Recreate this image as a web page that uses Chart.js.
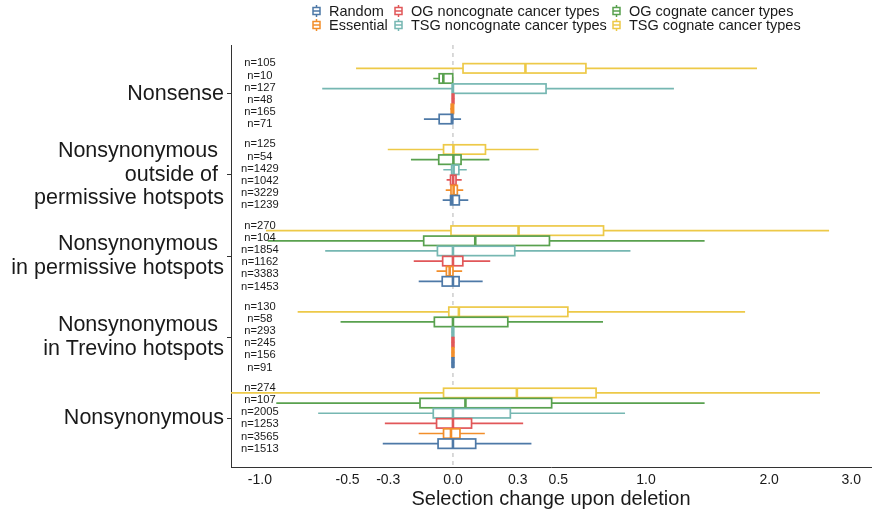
<!DOCTYPE html>
<html lang="en">
<head>
<meta charset="utf-8">
<script src="https://cdn.jsdelivr.net/npm/chart.js@4.4.1/dist/chart.umd.min.js"></script>
<style>
  html, body { margin: 0; padding: 0; background: #fff; }
</style>
</head>
<body>
<canvas id="chart" width="873" height="515"></canvas>
<script>
// category labels (top to bottom)
const groups = [
  'Nonsense',
  ['Nonsynonymous ', 'outside of ', 'permissive hotspots'],
  ['Nonsynonymous ', 'in permissive hotspots'],
  ['Nonsynonymous ', 'in Trevino hotspots'],
  'Nonsynonymous'
];

// x ticks
const xTickValues = [-1, -0.5, -0.3, 0, 0.3, 0.5, 1, 2, 3];
const xTickLabels = ['-1.0', '-0.5', '-0.3', '0.0', '0.3', '0.5', '1.0', '2.0', '3.0'];

// series, in the order they are stacked inside a group (top first)
const seriesNames = ['TSG cognate cancer types', 'OG cognate cancer types', 'TSG noncognate cancer types',
                     'OG noncognate cancer types', 'Essential', 'Random'];
const seriesColors = ['#EDC948', '#59A14F', '#76B7B2', '#E15759', '#F28E2B', '#4E79A7'];

// [lower whisker, q1, median, q3, upper whisker] for each group
const tsgCognate = [
  [-0.457, 0.046, 0.337, 0.645, 1.879],
  [-0.302, -0.043, 0.002, 0.149, 0.401],
  [-0.961, -0.009, 0.304, 0.743, 2.695],
  [-0.770, -0.019, 0.027, 0.549, 1.766],
  [-1.25, -0.043, 0.296, 0.701, 2.578]
];
const ogCognate = [
  [-0.090, -0.063, -0.044, -0.001, 0.0],
  [-0.193, -0.065, 0.002, 0.037, 0.167],
  [-0.95, -0.134, 0.102, 0.455, 1.419],
  [-0.536, -0.085, 0.0, 0.253, 0.740],
  [-0.897, -0.151, 0.057, 0.466, 1.419]
];
const tsgNoncognate = [
  [-0.633, -0.003, 0.0, 0.438, 1.189],
  [-0.044, -0.006, 0.003, 0.027, 0.063],
  [-0.617, -0.071, 0.0, 0.286, 0.902],
  [-0.006, -0.004, 0.0, 0.003, 0.005],
  [-0.655, -0.090, 0.0, 0.265, 0.869]
];
const ogNoncognate = [
  [-0.005, -0.003, 0.0, 0.004, 0.006],
  [-0.029, -0.011, 0.001, 0.014, 0.040],
  [-0.180, -0.047, 0.0, 0.045, 0.171],
  [-0.006, -0.004, 0.0, 0.004, 0.006],
  [-0.316, -0.075, 0.0, 0.085, 0.326]
];
const essential = [
  [-0.012, -0.008, 0.0, 0.002, 0.004],
  [-0.033, -0.009, 0.003, 0.020, 0.047],
  [-0.075, -0.030, -0.015, 0.0, 0.042],
  [-0.006, -0.004, 0.0, 0.004, 0.006],
  [-0.157, -0.043, -0.009, 0.032, 0.146]
];
const random = [
  [-0.133, -0.063, -0.005, -0.001, 0.037],
  [-0.047, -0.011, -0.003, 0.029, 0.070],
  [-0.157, -0.049, 0.0, 0.028, 0.136],
  [-0.006, -0.004, 0.0, 0.004, 0.006],
  [-0.326, -0.068, 0.0, 0.104, 0.366]
];

// sample sizes per group
const nTsgCognate = [105, 125, 270, 130, 274];
const nOgCognate = [10, 54, 104, 58, 107];
const nTsgNoncognate = [127, 1429, 1854, 293, 2005];
const nOgNoncognate = [48, 1042, 1162, 245, 1253];
const nEssential = [165, 3229, 3383, 156, 3565];
const nRandom = [71, 1239, 1453, 91, 1513];

const allStats = [tsgCognate, ogCognate, tsgNoncognate, ogNoncognate, essential, random];
const allN = [nTsgCognate, nOgCognate, nTsgNoncognate, nOgNoncognate, nEssential, nRandom];

// legend grid: columns left to right, rows top to bottom
const legendColumns = [['Random', 'Essential'],
                       ['OG noncognate cancer types', 'TSG noncognate cancer types'],
                       ['OG cognate cancer types', 'TSG cognate cancer types']];

const DODGE = 0.125;   // box spacing inside a group (category units)
const LABEL_STEP = 0.15;
const BOX_HALF = 0.058;

Chart.defaults.font.family = "'Liberation Sans', Arial, sans-serif";

// pseudo-log axis: position ~ asinh(value)
class AsinhScale extends Chart.LinearScale {
  static id = 'asinh';
  static defaults = {};
  getPixelForValue(v) {
    const lo = Math.asinh(this.min), hi = Math.asinh(this.max);
    return this.getPixelForDecimal((Math.asinh(v) - lo) / (hi - lo));
  }
  getValueForPixel(p) {
    const lo = Math.asinh(this.min), hi = Math.asinh(this.max);
    return Math.sinh(lo + this.getDecimalForPixel(p) * (hi - lo));
  }
}
Chart.register(AsinhScale);

const datasets = seriesNames.map((name, s) => ({
  label: name,
  color: seriesColors[s],
  stats: allStats[s],
  counts: allN[s],
  data: allStats[s].map((st, g) => ({ x: st[2], y: g + 1 + (s - 2.5) * DODGE })),
  pointRadius: 0
}));

const boxPlugin = {
  id: 'boxes',
  beforeDatasetsDraw(chart) {
    const { ctx, chartArea: a, scales: { x } } = chart;
    const x0 = x.getPixelForValue(0);
    ctx.save();
    ctx.strokeStyle = '#b5b5b5';
    ctx.lineWidth = 1;
    ctx.setLineDash([4, 4]);
    ctx.beginPath();
    ctx.moveTo(x0, a.top);
    ctx.lineTo(x0, a.bottom);
    ctx.stroke();
    ctx.restore();
  },
  afterDatasetsDraw(chart) {
    const { ctx, chartArea: a, scales: { x, y } } = chart;
    const h = Math.abs(y.getPixelForValue(1 + BOX_HALF) - y.getPixelForValue(1));
    ctx.save();
    ctx.beginPath();
    ctx.rect(a.left, a.top, a.right - a.left, a.bottom - a.top);
    ctx.clip();
    chart.data.datasets.forEach(ds => {
      ds.stats.forEach((st, g) => {
        const py = y.getPixelForValue(ds.data[g].y);
        const [lo, q1, med, q3, hi] = st.map(v => x.getPixelForValue(v));
        ctx.strokeStyle = ds.color;
        ctx.lineWidth = 1.7;
        ctx.beginPath();
        ctx.moveTo(lo, py); ctx.lineTo(q1, py);
        ctx.moveTo(q3, py); ctx.lineTo(hi, py);
        ctx.stroke();
        ctx.fillStyle = '#fff';
        ctx.fillRect(q1, py - h, Math.max(q3 - q1, 1), 2 * h);
        ctx.strokeRect(q1, py - h, Math.max(q3 - q1, 1), 2 * h);
        ctx.lineWidth = 2.6;
        ctx.beginPath();
        ctx.moveTo(med, py - h); ctx.lineTo(med, py + h);
        ctx.stroke();
      });
    });
    ctx.restore();

    // n= labels at x = -1
    ctx.save();
    ctx.fillStyle = '#1a1a1a';
    ctx.font = "11.2px 'Liberation Sans', Arial, sans-serif";
    ctx.textAlign = 'center';
    ctx.textBaseline = 'middle';
    const lx = x.getPixelForValue(-1);
    chart.data.datasets.forEach((ds, s) => {
      ds.counts.forEach((n, g) => {
        ctx.fillText('n=' + n, lx, y.getPixelForValue(g + 1 + (s - 2.5) * LABEL_STEP));
      });
    });
    ctx.restore();
  },
  afterDraw(chart) {
    // legend: 3 columns x 2 rows of boxplot keys
    const { ctx } = chart;
    const colX = [313, 395, 613];
    const rowY = [11, 25];
    ctx.save();
    ctx.font = "14.5px 'Liberation Sans', Arial, sans-serif";
    ctx.textBaseline = 'middle';
    ctx.textAlign = 'left';
    legendColumns.forEach((col, c) => {
      col.forEach((name, r) => {
        const color = seriesColors[seriesNames.indexOf(name)];
        const kx = colX[c], ky = rowY[r];
        ctx.strokeStyle = color;
        ctx.lineWidth = 1.5;
        ctx.beginPath();
        ctx.moveTo(kx + 3.5, ky - 6); ctx.lineTo(kx + 3.5, ky - 3.5);
        ctx.moveTo(kx + 3.5, ky + 3.5); ctx.lineTo(kx + 3.5, ky + 6);
        ctx.stroke();
        ctx.strokeRect(kx, ky - 3.5, 7, 7);
        ctx.beginPath();
        ctx.moveTo(kx, ky); ctx.lineTo(kx + 7, ky);
        ctx.stroke();
        ctx.fillStyle = '#1a1a1a';
        ctx.fillText(name, kx + 16, ky + 1);
      });
    });
    ctx.restore();
  }
};

new Chart(document.getElementById('chart'), {
  type: 'scatter',
  data: { datasets: datasets },
  plugins: [boxPlugin],
  options: {
    responsive: false,
    animation: false,
    layout: { padding: { top: 45, right: 2, left: 0, bottom: 0 } },
    plugins: { legend: { display: false }, tooltip: { enabled: false } },
    scales: {
      x: {
        type: 'asinh',
        min: -1.196,
        max: 3.298,
        bounds: 'data',
        afterBuildTicks: ax => { ax.ticks = xTickValues.map(v => ({ value: v })); },
        afterFit: ax => { ax.height = 48; },
        ticks: {
          callback: (v, i) => xTickLabels[i],
          color: '#1a1a1a',
          font: { size: 14 },
          padding: 5,
          maxRotation: 0,
          autoSkip: false
        },
        grid: { display: true, drawOnChartArea: false, drawTicks: false },
        border: { display: true, color: '#333', width: 1 },
        title: {
          display: true,
          text: 'Selection change upon deletion',
          color: '#1a1a1a',
          font: { size: 20 },
          padding: { top: 0, bottom: 4 }
        }
      },
      y: {
        type: 'linear',
        reverse: true,
        min: 0.4,
        max: 5.6,
        afterBuildTicks: ax => { ax.ticks = groups.map((g, i) => ({ value: i + 1 })); },
        afterFit: ax => { ax.width = 231; },
        ticks: {
          callback: (v, i) => groups[i],
          color: '#1a1a1a',
          font: { size: 21.5, lineHeight: 1.1 },
          padding: 3,
          autoSkip: false
        },
        grid: { drawOnChartArea: false, drawTicks: true, tickLength: 4, color: '#333' },
        border: { display: true, color: '#333', width: 1 }
      }
    }
  }
});
</script>
</body>
</html>
